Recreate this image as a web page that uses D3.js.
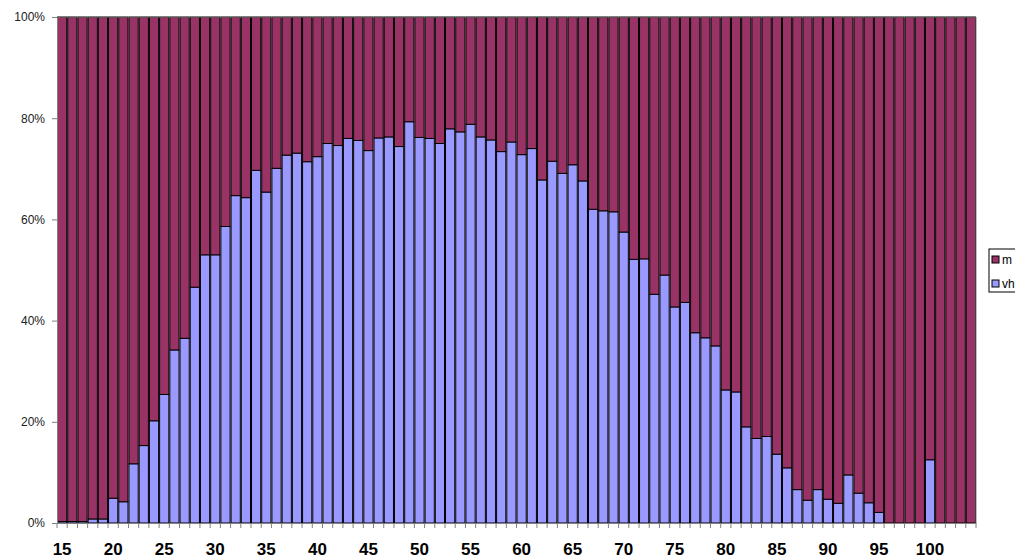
<!DOCTYPE html>
<html>
<head>
<meta charset="utf-8">
<script src="https://cdn.jsdelivr.net/npm/d3@7"></script>
<style>
  body { margin: 0; background: #fff; }
  svg { display: block; font-family: "Liberation Sans", Arial, sans-serif; }
</style>
</head>
<body>
<svg id="chart" width="1015" height="560"></svg>
<script>
// ages on the x axis
const ages = [
  15,16,17,18,19,20,21,22,23,24,
  25,26,27,28,29,30,31,32,33,34,
  35,36,37,38,39,40,41,42,43,44,
  45,46,47,48,49,50,51,52,53,54,
  55,56,57,58,59,60,61,62,63,64,
  65,66,67,68,69,70,71,72,73,74,
  75,76,77,78,79,80,81,82,83,84,
  85,86,87,88,89,90,91,92,93,94,
  95,96,97,98,99,100,101,102,103,104
]

// share (%) of "vh" - bottom, blue
const vhValues = [
  0.3,0.3,0.3,0.8,0.8,4.9,4.2,11.7,15.3,20.2,
  25.4,34.2,36.5,46.6,53.0,53.0,58.6,64.7,64.3,69.7,
  65.4,70.1,72.7,73.1,71.4,72.4,75.0,74.6,76.0,75.6,
  73.6,76.1,76.3,74.4,79.3,76.2,76.0,75.0,77.9,77.3,
  78.8,76.3,75.7,73.4,75.3,72.8,74.0,67.8,71.5,69.1,
  70.8,67.6,62.0,61.7,61.5,57.5,52.1,52.2,45.2,49.0,
  42.7,43.6,37.6,36.6,35.0,26.3,25.9,19.0,16.7,17.1,
  13.6,10.9,6.6,4.5,6.6,4.7,3.9,9.5,5.9,4.0,
  2.1,0,0,0,0,12.5,0,0,0,0
]

// share (%) of "m" - top, red
const mValues = [
  99.7,99.7,99.7,99.2,99.2,95.1,95.8,88.3,84.7,79.8,
  74.6,65.8,63.5,53.4,47.0,47.0,41.4,35.3,35.7,30.3,
  34.6,29.9,27.3,26.9,28.6,27.6,25.0,25.4,24.0,24.4,
  26.4,23.9,23.7,25.6,20.7,23.8,24.0,25.0,22.1,22.7,
  21.2,23.7,24.3,26.6,24.7,27.2,26.0,32.2,28.5,30.9,
  29.2,32.4,38.0,38.3,38.5,42.5,47.9,47.8,54.8,51.0,
  57.3,56.4,62.4,63.4,65.0,73.7,74.1,81.0,83.3,82.9,
  86.4,89.1,93.4,95.5,93.4,95.3,96.1,90.5,94.1,96.0,
  97.9,100,100,100,100,87.5,100,100,100,100
]

const yTicks = [0, 20, 40, 60, 80, 100]
const seriesNames = ['vh', 'm']
const colors = { vh: '#9999ff', m: '#993366' }

const rows = ages.map((a, i) => ({ age: a, vh: vhValues[i], m: mValues[i] }))

const svg = d3.select('#chart')
const plotLeft = 57, plotRight = 976, plotTop = 17, plotBottom = 523

const x = d3.scaleBand().domain(ages).range([plotLeft, plotRight]).padding(0)
const y = d3.scaleLinear().domain([0, 100]).range([plotBottom, plotTop])
const bw = x.bandwidth()

const stacked = d3.stack().keys(seriesNames)(rows)

// each bar keeps its own black outline, so neighbours show a double line
svg.append('g')
  .selectAll('g')
  .data(stacked)
  .enter().append('g')
  .attr('fill', d => colors[d.key])
  .selectAll('rect')
  .data(d => d)
  .enter().append('rect')
  .attr('x', d => x(d.data.age) + 0.5)
  .attr('y', d => y(d[1]))
  .attr('width', bw - 1)
  .attr('height', d => y(d[0]) - y(d[1]))
  .attr('stroke', '#000')
  .attr('stroke-width', 1)

// plot border top/right
svg.append('path')
  .attr('d', `M${plotLeft},${plotTop}H${plotRight}V${plotBottom}`)
  .attr('fill', 'none')
  .attr('stroke', '#808080')

// y axis
const yAxis = svg.append('g')
  .attr('transform', `translate(${plotLeft},0)`)
  .call(d3.axisLeft(y).tickValues(yTicks).tickFormat(d => d + '%').tickSize(5).tickPadding(7))
yAxis.select('.domain').attr('stroke', '#808080')
yAxis.selectAll('.tick line').attr('stroke', '#808080')
yAxis.selectAll('text').attr('font-size', 12).attr('fill', '#222')
  .attr('font-family', '"Liberation Sans", Arial, sans-serif')

// x axis
const xAxis = svg.append('g')
  .attr('transform', `translate(0,${plotBottom})`)
  .call(d3.axisBottom(x).tickFormat(d => d % 5 === 0 ? d : '').tickSize(5).tickPadding(15).tickSizeOuter(0))
xAxis.select('.domain').attr('stroke', '#808080')
xAxis.selectAll('.tick line').attr('stroke', '#808080').attr('x1', -bw / 2).attr('x2', -bw / 2)
xAxis.append('line')
  .attr('x1', plotRight).attr('x2', plotRight).attr('y1', 0).attr('y2', 5)
  .attr('stroke', '#808080')
xAxis.selectAll('text').attr('font-size', 17).attr('font-weight', 'bold').attr('fill', '#000')
  .attr('font-family', '"Liberation Sans", Arial, sans-serif')

// legend (runs off the right edge like the original)
const legend = svg.append('g').attr('transform', 'translate(989,249)')
legend.append('rect')
  .attr('width', 60).attr('height', 43)
  .attr('fill', '#fff').attr('stroke', '#000')
const legendItems = ['m', 'vh']
legendItems.forEach((k, i) => {
  legend.append('rect')
    .attr('x', 3).attr('y', 7 + i * 24)
    .attr('width', 7).attr('height', 7)
    .attr('fill', colors[k]).attr('stroke', '#000')
  legend.append('text')
    .attr('x', 13).attr('y', 15 + i * 24)
    .attr('font-size', 12)
    .text(k)
})
</script>
</body>
</html>
